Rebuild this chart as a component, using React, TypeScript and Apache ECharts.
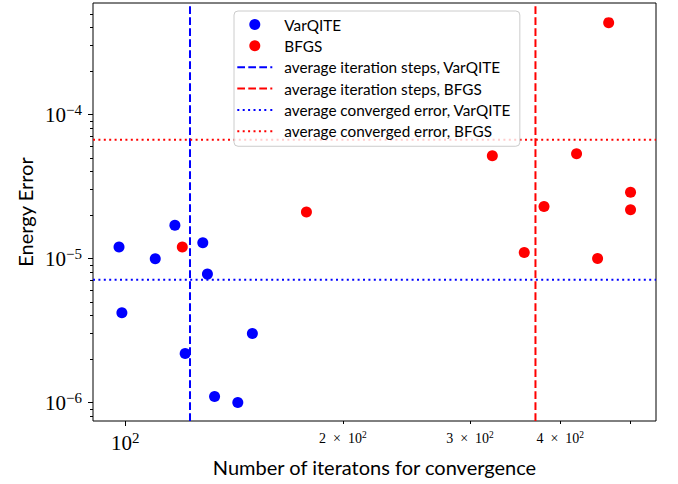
import React, { useEffect, useRef } from "react";
import * as echarts from "echarts";

// ---- data ----
const varqiteIterations = [98.0, 117.1, 110.0, 128.0, 129.9, 98.9, 149.9, 121.0, 132.9, 143.1];
const varqiteErrors = [1.2e-5, 1.7e-5, 9.95e-6, 1.285e-5, 7.78e-6, 4.2e-6, 3.01e-6, 2.19e-6, 1.1e-6, 1.0e-6];
const bfgsIterations = [119.9, 178.1, 322.1, 356.6, 379.8, 421.3, 450.5, 466.7, 500.4, 500.4];
const bfgsErrors = [1.2e-5, 2.1e-5, 5.16e-5, 1.1e-5, 2.29e-5, 5.33e-5, 1.0e-5, 4.34e-4, 2.88e-5, 2.18e-5];

// ---- axis ticks ----
const xRange = [90.2, 542.7];
const yRange = [7.43e-7, 5.94e-4];
const xMajorTicks = [100];
const xMinorTicks = [200, 300, 400, 500];
const xMinorLabels = [200, 300, 400];
const yMajorTicks = [1e-6, 1e-5, 1e-4];
const yMinorTicks = [
  8e-7, 9e-7,
  2e-6, 3e-6, 4e-6, 5e-6, 6e-6, 7e-6, 8e-6, 9e-6,
  2e-5, 3e-5, 4e-5, 5e-5, 6e-5, 7e-5, 8e-5, 9e-5,
  2e-4, 3e-4, 4e-4, 5e-4,
];

const names = {
  varqite: "VarQITE",
  bfgs: "BFGS",
  iterVarqite: "average iteration steps, VarQITE",
  iterBfgs: "average iteration steps, BFGS",
  errVarqite: "average converged error, VarQITE",
  errBfgs: "average converged error, BFGS",
};

const BLUE = "#0000ff";
const RED = "#ff0000";
const SERIF = "'Liberation Serif', 'DejaVu Serif', serif";
const SANS = "Lato, 'Open Sans', sans-serif";

const mean = (a: number[]) => a.reduce((s, v) => s + v, 0) / a.length;

const DASH = [7.7, 3.3];
const DOT = [2, 3.4];
const dashIcon = "path://M0,0h7.7v2h-7.7zM11,0h7.7v2h-7.7zM22,0h7.7v2h-7.7zM33,0h2v2h-2z";
const dotIcon = "path://M0,0h2v2h-2zM5.4,0h2v2h-2zM10.8,0h2v2h-2zM16.2,0h2v2h-2zM21.6,0h2v2h-2zM27,0h2v2h-2zM33,0h2v2h-2z";

const sup = (e: number) => (e < 0 ? "\u2212" + -e : String(e));

export default function App() {
  const ref = useRef<HTMLDivElement>(null);
  useEffect(() => {
    if (!ref.current) return;
    const chart = echarts.init(ref.current, undefined, { renderer: "svg" });

    const majorRich = {
      b: { fontFamily: SERIF, fontSize: 21, color: "#000", verticalAlign: "bottom" },
      s: { fontFamily: SERIF, fontSize: 15, color: "#000", verticalAlign: "bottom", padding: [0, 0, 8.1, 0] },
    };
    const minorRich = {
      b: { fontFamily: SERIF, fontSize: 14, color: "#000", verticalAlign: "bottom" },
      s: { fontFamily: SERIF, fontSize: 9.5, color: "#000", verticalAlign: "bottom", padding: [0, 0, 5.4, 0] },
    };

    const lineSeries = (name: string, color: string, type: number[], points: number[][]) => ({
      name,
      type: "line",
      color,
      symbol: "none",
      showSymbol: false,
      silent: true,
      clip: false,
      emphasis: { disabled: true },
      lineStyle: { color, width: 2, type },
      data: points,
    });

    const legendItem = (name: string, icon: string, color: string) => ({
      name,
      icon,
      itemStyle: { color, borderWidth: 0, opacity: 1 },
    });

    const iterV = mean(varqiteIterations);
    const iterB = mean(bfgsIterations);
    const errV = mean(varqiteErrors);
    const errB = mean(bfgsErrors);

    chart.setOption({
      animation: false,
      backgroundColor: "#fff",
      grid: {
        left: 93,
        top: 3,
        right: 22,
        bottom: 63,
        show: true,
        borderColor: "#000",
        borderWidth: 1,
        containLabel: false,
        outerBoundsMode: "none",
      },
      legend: {
        orient: "vertical",
        left: 234,
        top: 11,
        selectedMode: false,
        itemWidth: 35,
        itemHeight: 11,
        itemGap: 6.35,
        padding: [6, 9, 7.5, 3.3],
        backgroundColor: "rgba(255,255,255,0.8)",
        borderColor: "#cccccc",
        borderWidth: 1,
        borderRadius: 4,
        textStyle: { fontFamily: SANS, fontSize: 15.3, color: "#000", lineHeight: 14, padding: [0, 0, 0, 7] },
        data: [
          legendItem(names.varqite, "circle", BLUE),
          legendItem(names.bfgs, "circle", RED),
          legendItem(names.iterVarqite, dashIcon, BLUE),
          legendItem(names.iterBfgs, dashIcon, RED),
          legendItem(names.errVarqite, dotIcon, BLUE),
          legendItem(names.errBfgs, dotIcon, RED),
        ],
      },
      xAxis: [
        {
          type: "log",
          logBase: 10,
          min: xRange[0],
          max: xRange[1],
          position: "bottom",
          name: "Number of iteratons for convergence",
          nameLocation: "middle",
          nameGap: 36,
          nameMoveOverlap: false,
          nameTextStyle: { fontFamily: SANS, fontSize: 20, color: "#000" },
          axisLine: { show: false },
          splitLine: { show: false },
          axisTick: { show: true, length: 5, customValues: xMajorTicks, lineStyle: { color: "#000", width: 1 } },
          axisLabel: {
            customValues: xMajorTicks,
            margin: 9,
            formatter: (v: number) => `{b|10}{s|${sup(Math.round(Math.log10(v)))}}`,
            rich: majorRich,
          },
        },
        {
          type: "log",
          logBase: 10,
          min: xRange[0],
          max: xRange[1],
          position: "bottom",
          axisLine: { show: false },
          splitLine: { show: false },
          axisTick: { show: true, length: 3, customValues: xMinorTicks, lineStyle: { color: "#000", width: 1 } },
          axisLabel: {
            customValues: xMinorLabels,
            margin: 9,
            formatter: (v: number) => {
              const e = Math.floor(Math.log10(v) + 1e-9);
              const m = Math.round(v / Math.pow(10, e));
              return `{b|${m}\u2002\u00d7\u200210}{s|${sup(e)}}`;
            },
            rich: minorRich,
          },
        },
      ],
      yAxis: [
        {
          type: "log",
          logBase: 10,
          min: yRange[0],
          max: yRange[1],
          position: "left",
          name: "Energy Error",
          nameLocation: "middle",
          nameGap: 58,
          nameMoveOverlap: false,
          nameTextStyle: { fontFamily: SANS, fontSize: 20, color: "#000" },
          axisLine: { show: false },
          splitLine: { show: false },
          axisTick: { show: true, length: 5, customValues: yMajorTicks, lineStyle: { color: "#000", width: 1 } },
          axisLabel: {
            customValues: yMajorTicks,
            margin: 11,
            formatter: (v: number) => `{b|10}{s|${sup(Math.round(Math.log10(v)))}}`,
            rich: majorRich,
          },
        },
        {
          type: "log",
          logBase: 10,
          min: yRange[0],
          max: yRange[1],
          position: "left",
          axisLine: { show: false },
          splitLine: { show: false },
          axisTick: { show: true, length: 3, customValues: yMinorTicks, lineStyle: { color: "#000", width: 1 } },
          axisLabel: { show: false },
        },
      ],
      series: [
        {
          name: names.varqite,
          type: "scatter",
          color: BLUE,
          symbolSize: 11,
          itemStyle: { color: BLUE, opacity: 1 },
          emphasis: { disabled: true },
          data: varqiteIterations.map((x, i) => [x, varqiteErrors[i]]),
        },
        {
          name: names.bfgs,
          type: "scatter",
          color: RED,
          symbolSize: 11,
          itemStyle: { color: RED, opacity: 1 },
          emphasis: { disabled: true },
          data: bfgsIterations.map((x, i) => [x, bfgsErrors[i]]),
        },
        lineSeries(names.iterVarqite, BLUE, DASH, [[iterV, yRange[0]], [iterV, yRange[1]]]),
        lineSeries(names.iterBfgs, RED, DASH, [[iterB, yRange[0]], [iterB, yRange[1]]]),
        lineSeries(names.errVarqite, BLUE, DOT, [[xRange[0], errV], [xRange[1], errV]]),
        lineSeries(names.errBfgs, RED, DOT, [[xRange[0], errB], [xRange[1], errB]]),
      ],
    });
    return () => chart.dispose();
  }, []);
  return <div ref={ref} style={{ position: "fixed", left: 0, top: 0, width: 678, height: 484 }} />;
}
